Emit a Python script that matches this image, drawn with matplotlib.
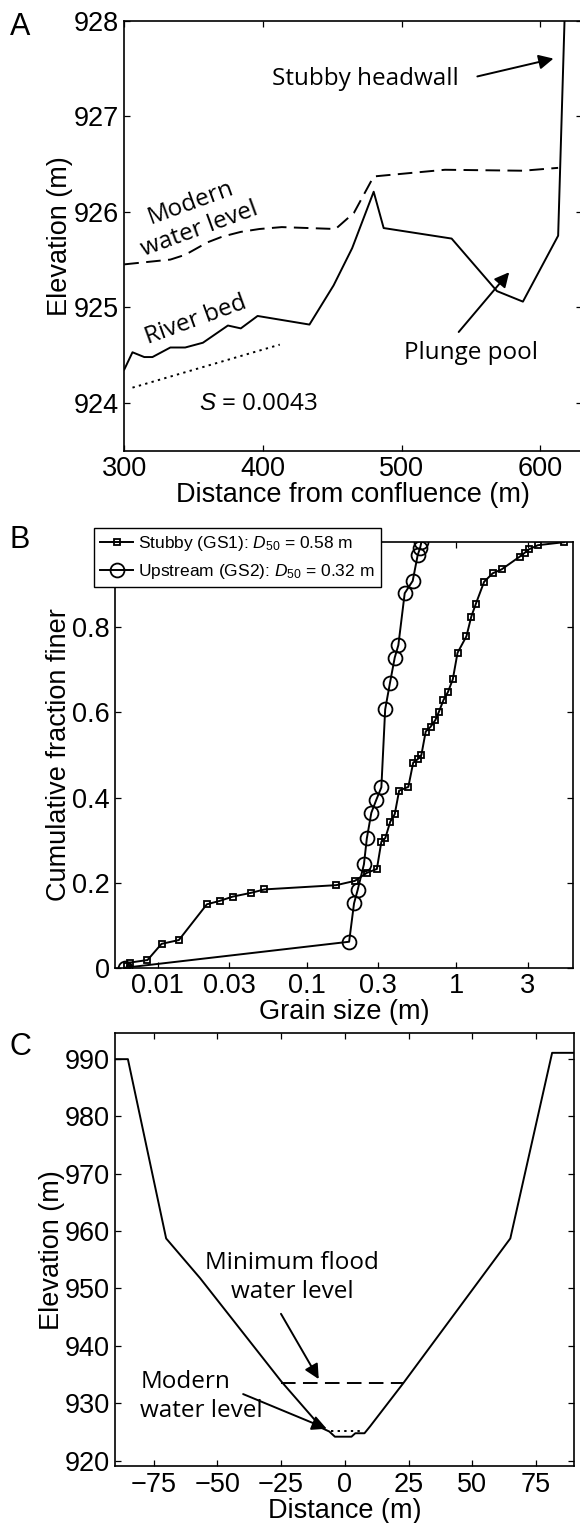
import matplotlib
matplotlib.use('Agg')
import matplotlib.pyplot as plt
import numpy as np

plt.rcParams['font.family'] = ['Liberation Sans', 'DejaVu Sans']
plt.rcParams['mathtext.fontset'] = 'custom'
plt.rcParams['mathtext.it'] = 'Liberation Sans:italic'
plt.rcParams['mathtext.rm'] = 'Liberation Sans'

# --- panel A: long profile ---
bed_x = [300, 305.9, 314.4, 320.3, 333.2, 343.9, 356.7, 374.7, 384.0, 396.1,
         433.5, 450.9, 464.3, 479.8, 487.0, 536.0, 568.7, 587.4, 612.8, 617.4]
bed_z = [924.35, 924.53, 924.48, 924.48, 924.58, 924.58, 924.63, 924.81, 924.78, 924.91,
         924.82, 925.23, 925.62, 926.21, 925.83, 925.72, 925.17, 925.06, 925.75, 928.0]
water_x = [300, 333.2, 343.9, 359.9, 370.6, 384.0, 397.4, 413.5, 452.3, 465.6,
           479.8, 531.2, 587.4, 612.8]
water_z = [925.45, 925.50, 925.55, 925.68, 925.74, 925.79, 925.82, 925.84, 925.82, 925.99,
           926.37, 926.44, 926.43, 926.46]
slope_x = [305.9, 412.1]
slope_z = [924.16, 924.61]

# --- panel B: grain size distributions ---
gs1_d = [0.00623, 0.00648, 0.00853, 0.01059, 0.01384, 0.0213, 0.02596, 0.0317, 0.0422, 0.0518,
         0.1567, 0.2084, 0.2514, 0.293, 0.314, 0.334, 0.360, 0.386, 0.413, 0.476,
         0.513, 0.550, 0.582, 0.622, 0.670, 0.722, 0.764, 0.818, 0.877, 0.945,
         1.016, 1.166, 1.256, 1.344, 1.531, 1.749, 2.003, 2.65, 2.86, 3.05,
         3.51, 5.24]
gs1_f = [0.004, 0.012, 0.018, 0.056, 0.065, 0.149, 0.157, 0.167, 0.176, 0.184,
         0.194, 0.204, 0.223, 0.232, 0.296, 0.305, 0.343, 0.361, 0.416, 0.425,
         0.482, 0.490, 0.500, 0.555, 0.566, 0.582, 0.602, 0.629, 0.648, 0.678,
         0.740, 0.779, 0.825, 0.854, 0.907, 0.927, 0.936, 0.966, 0.975, 0.983,
         0.993, 1.0]
gs2_d = [0.00605, 0.191, 0.206, 0.218, 0.240, 0.251, 0.269, 0.290, 0.314, 0.333,
         0.358, 0.386, 0.408, 0.450, 0.509, 0.550, 0.570, 0.582]
gs2_f = [0.0, 0.061, 0.151, 0.183, 0.243, 0.304, 0.364, 0.394, 0.424, 0.607,
         0.668, 0.729, 0.758, 0.880, 0.909, 0.970, 0.986, 1.0]

# --- panel C: cross section ---
xs_x = [-90, -85.1, -70.1, -56.8, -24.9, -9.0, -6.1, -3.9, 2.6, 4.1,
        7.7, 9.9, 22.9, 64.9, 81.3, 90]
xs_z = [989.9, 989.9, 958.7, 951.8, 933.8, 925.7, 925.1, 924.2, 924.2, 924.8,
        924.8, 926.0, 933.5, 958.7, 991.0, 991.0]
flood_x = [-24.9, 22.9]
flood_z = [933.5, 933.5]
modern_x = [-5.4, 7.7]
modern_z = [925.2, 925.2]

W, H = 580, 1523
fig = plt.figure(figsize=(W / 100, H / 100), dpi=100)


def box(l, r, t, b):
    return [l / W, 1 - b / H, (r - l) / W, (b - t) / H]


def style(ax):
    ax.tick_params(direction='in', top=True, right=True, length=4, width=0.9,
                   labelsize=19.5, pad=4)
    for s in ax.spines.values():
        s.set_linewidth(1.2)


ann = dict(family='Open Sans', fontsize=17.5)
LW = 1.4
DASH = (7.5, 3.8)
DOT = (1.2, 2.2)
arrow = dict(arrowstyle='-|>', color='k', lw=1.4, mutation_scale=22)

# A
axA = fig.add_axes(box(124.3, 582, 20.7, 450.7))
axA.plot(bed_x, bed_z, 'k-', lw=LW)
axA.plot(water_x, water_z, 'k--', lw=LW, dashes=DASH)
axA.plot(slope_x, slope_z, 'k:', lw=LW, dashes=DOT)
axA.set_xlim(300, 630)
axA.set_ylim(923.5, 928)
axA.set_xticks([300, 400, 500, 600])
axA.set_yticks([924, 925, 926, 927, 928])
style(axA)
axA.set_xlabel('Distance from confluence (m)', fontsize=19.5, labelpad=0)
axA.set_ylabel('Elevation (m)', fontsize=19.5, labelpad=0)
axA.text(473.7, 927.39, 'Stubby headwall', ha='center', va='center', **ann)
axA.annotate('', xy=(611.4, 927.61), xytext=(552.6, 927.41), arrowprops=arrow)
axA.text(348, 926.09, 'Modern', ha='center', va='center', rotation=20, **ann)
axA.text(354.6, 925.82, 'water level', ha='center', va='center', rotation=20, **ann)
axA.text(351.4, 924.87, 'River bed', ha='center', va='center', rotation=20, **ann)
axA.text(396.6, 923.99, '$S$ = 0.0043', ha='center', va='center', **ann)
axA.text(550, 924.52, 'Plunge pool', ha='center', va='center', **ann)
axA.annotate('', xy=(578.8, 925.39), xytext=(539.8, 924.72), arrowprops=arrow)
fig.text(20 / W, 1 - 27 / H, 'A', fontsize=22, ha='center', va='center')

# B
axB = fig.add_axes(box(115.4, 572.7, 542.2, 967.7))
axB.plot(gs1_d, gs1_f, 'k-', lw=LW, marker='s', ms=5.0, mfc='none', mec='k', mew=1.3,
         label='Stubby (GS1): $D_{50}$ = 0.58 m')
axB.plot(gs2_d, gs2_f, 'k-', lw=LW, marker='o', ms=10, mfc='none', mec='k', mew=1.3,
         label='Upstream (GS2): $D_{50}$ = 0.32 m')
axB.set_xscale('log')
axB.set_xlim(0.0052, 6)
axB.set_ylim(0, 1)
axB.set_xticks([0.01, 0.03, 0.1, 0.3, 1, 3])
axB.set_xticklabels(['0.01', '0.03', '0.1', '0.3', '1', '3'])
axB.minorticks_off()
axB.set_yticks([0, 0.2, 0.4, 0.6, 0.8])
axB.set_yticklabels(['0', '0.2', '0.4', '0.6', '0.8'])
style(axB)
axB.set_xlabel('Grain size (m)', fontsize=19.5, labelpad=0)
axB.set_ylabel('Cumulative fraction finer', fontsize=19.5, labelpad=0)
leg = axB.legend(loc='upper left', bbox_to_anchor=(94 / W, 1 - 528 / H),
                 bbox_transform=fig.transFigure, borderaxespad=0, fontsize=12.5,
                 frameon=True, fancybox=False, framealpha=1, edgecolor='k',
                 handlelength=1.9, handletextpad=0.3, borderpad=0.35, labelspacing=0.5)
leg.get_frame().set_linewidth(1.0)
fig.text(20 / W, 1 - 540 / H, 'B', fontsize=22, ha='center', va='center')

# C
axC = fig.add_axes(box(115.4, 574.3, 1033.3, 1466))
axC.plot(xs_x, xs_z, 'k-', lw=LW)
axC.plot(flood_x, flood_z, 'k--', lw=LW, dashes=DASH)
axC.plot(modern_x, modern_z, 'k:', lw=LW, dashes=DOT)
axC.set_xlim(-90, 90)
axC.set_ylim(919.1, 994.4)
axC.set_xticks([-75, -50, -25, 0, 25, 50, 75])
axC.set_xticklabels(['\u221275', '\u221250', '\u221225', '0', '25', '50', '75'])
axC.set_yticks(np.arange(920, 991, 10))
style(axC)
axC.set_xlabel('Distance (m)', fontsize=19.5, labelpad=0)
axC.set_ylabel('Elevation (m)', fontsize=19.5, labelpad=0)
axC.text(-20.6, 951.9, 'Minimum flood\nwater level', ha='center', va='center',
         linespacing=1.25, **ann)
axC.annotate('', xy=(-9.7, 933.8), xytext=(-25.6, 946), arrowprops=arrow)
axC.text(-80.3, 931.2, 'Modern\nwater level', ha='left', va='center',
         linespacing=1.25, **ann)
axC.annotate('', xy=(-6.1, 925.4), xytext=(-40.9, 931.8), arrowprops=arrow)
fig.text(20 / W, 1 - 1047 / H, 'C', fontsize=22, ha='center', va='center')

fig.savefig('out.png', dpi=100)
